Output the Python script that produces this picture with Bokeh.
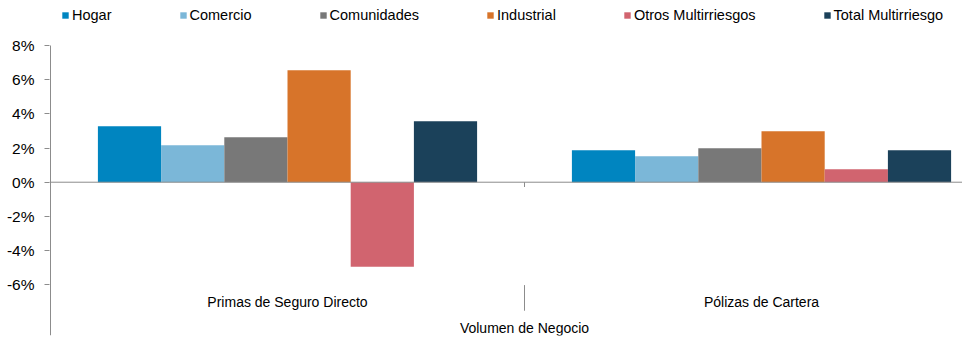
from bokeh.plotting import figure
from bokeh.models import (Range1d, FixedTicker, Span, Legend, LegendItem, ColumnDataSource)
from bokeh.core.properties import value
from bokeh.embed import file_html
from bokeh.resources import INLINE

# ---- data ----
groups = ["Primas de Seguro Directo", "Pólizas de Cartera"]
super_label = "Volumen de Negocio"
series = ["Hogar", "Comercio", "Comunidades", "Industrial", "Otros Multirriesgos", "Total Multirriesgo"]
hogar = [3.27, 1.87]
comercio = [2.16, 1.52]
comunidades = [2.63, 1.99]
industrial = [6.55, 2.98]
otros = [-4.95, 0.76]
total = [3.57, 1.87]
y_ticks = [-6, -4, -2, 0, 2, 4, 6, 8]
colors = ["#0085C0", "#7BB7D8", "#787878", "#D7742A", "#D1646F", "#1B415A"]

values = [hogar, comercio, comunidades, industrial, otros, total]

FONT = "Liberation Sans"
AXIS_GRAY = "#8C8C8C"

UNIT = 474.0          # px per category
PX_PER_PCT = 290.0 / (8 + 8.97)
x_start = -1.0 / UNIT
y_low = -8.97
y_high = 8 + 45.0 / PX_PER_PCT

p = figure(width=962, height=350, output_backend="svg", toolbar_location=None,
           x_axis_location=None,
           x_range=Range1d(x_start, x_start + 913 / UNIT), y_range=Range1d(y_low, y_high),
           min_border_left=49, min_border_right=0, min_border_top=0, min_border_bottom=15)
p.outline_line_color = None
p.grid.visible = False
p.background_fill_color = "white"
p.border_fill_color = "white"

n = len(series)
group_w = 0.8
bw = group_w / n
items = []
for i, (name, vals, c) in enumerate(zip(series, values, colors)):
    xs = [g + (1 - group_w) / 2 + bw * (i + 0.5) for g in range(len(groups))]
    src = ColumnDataSource(dict(x=xs, top=vals))
    r = p.vbar(x="x", top="top", bottom=0, width=bw, source=src,
               fill_color=c, line_color=None)
    items.append(LegendItem(label=name, renderers=[r]))

# zero line
p.add_layout(Span(location=0, dimension="width", line_color=AXIS_GRAY, line_width=1))
# y axis line (from top tick down to bottom of category area)
p.segment(x0=[0], x1=[0], y0=[y_low], y1=[max(y_ticks)], line_color=AXIS_GRAY, line_width=1)
# category tick marks on zero line & separators below
bounds = list(range(1, len(groups)))
p.segment(x0=bounds, x1=bounds, y0=[0] * len(bounds), y1=[-0.28] * len(bounds),
          line_color=AXIS_GRAY, line_width=1)
p.segment(x0=bounds, x1=bounds, y0=[-6.02] * len(bounds), y1=[-7.52] * len(bounds),
          line_color=AXIS_GRAY, line_width=1)

# category labels
p.text(x=[g + 0.5 for g in range(len(groups))], y=[-7.01] * len(groups), text=groups,
       text_align="center", text_baseline="middle", text_font=value(FONT),
       text_font_size="14px", text_color="#000000")
p.text(x=[len(groups) / 2], y=[-8.52], text=[super_label],
       text_align="center", text_baseline="middle", text_font=value(FONT),
       text_font_size="14px", text_color="#000000")

# y axis
ax = p.yaxis[0]
ax.ticker = FixedTicker(ticks=y_ticks)
ax.major_label_overrides = {t: f"{t}%" for t in y_ticks}
ax.axis_line_color = None
ax.major_tick_line_color = AXIS_GRAY
ax.major_tick_out = 5
ax.major_tick_in = 0
ax.minor_tick_line_color = None
ax.major_label_standoff = 10
ax.major_label_text_font = FONT
ax.major_label_text_font_size = "15.5px"
ax.major_label_text_color = "#000000"

legend = Legend(items=items, orientation="horizontal", location=(12, 310),
                glyph_width=8, glyph_height=8, label_standoff=3, spacing=67,
                padding=0, margin=0, border_line_color=None, background_fill_alpha=0,
                label_text_font=FONT, label_text_font_size="14.5px", label_text_color="#000000",
                label_height=20)
p.add_layout(legend, "center")

open("out.html", "w").write(file_html(p, INLINE))
